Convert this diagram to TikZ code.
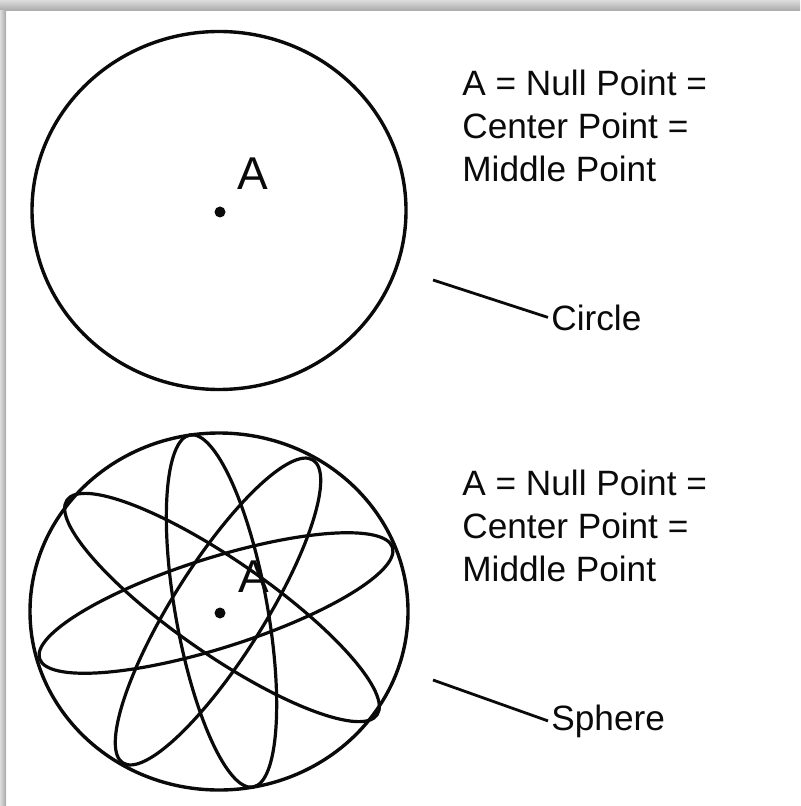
\documentclass[tikz,border=0pt]{standalone}
\usepackage{fontspec}
\setmainfont{Liberation Sans}
\usetikzlibrary{positioning}
\definecolor{ink}{HTML}{0A0A0A}
\definecolor{frame}{HTML}{A8A8A8}
\definecolor{framelt}{HTML}{DCDCDC}
\tikzset{
  outline/.style={draw=ink,line width=1.7pt},
  orbit/.style={draw=ink,line width=1.6pt},
  pin/.style={fill=ink},
  lead/.style={draw=ink,line width=1.4pt},
  caption/.style={font=\fontsize{17.6}{21.5}\selectfont,text=ink,align=left,inner sep=0pt},
  tag/.style={font=\fontsize{17.6}{20}\selectfont,text=ink,inner ysep=0pt,inner xsep=1.5pt},
  letter/.style={font=\fontsize{23}{26}\selectfont,text=ink,inner sep=0pt},
}
\begin{document}
\begin{tikzpicture}[x=0.5pt,y=-0.5pt]
\useasboundingbox (0,0) rectangle (800,806);
% frame shadow
\shade[top color=framelt,bottom color=frame] (0,0) rectangle (800,11);
\shade[left color=framelt,right color=frame] (0,11) rectangle (6,806);
% circle
\coordinate (circc) at (219,210.5);
\draw[outline] (circc) ellipse (187 and 179);
\fill[pin] (220,212) circle (5.5);
\node[letter,anchor=base west] (circA) at (237,190) {A};
\node[caption,anchor=north west] (circtxt) at (462,70) {A = Null Point =\\Center Point =\\Middle Point};
\coordinate (circtail) at (433,280);
\node[tag,anchor=base west] (circlbl) at (548,330) {Circle};
\draw[lead] (circtail) -- (circlbl.west);
% sphere
\coordinate (sphc) at (219,611.5);
\draw[outline] (sphc) ellipse (189 and 178.5);
\draw[orbit,rotate around={-79.85:(221.5,611)}] (221.5,611) ellipse (178.8 and 46);
\draw[orbit,rotate around={57.9:(218,611.5)}] (218,611.5) ellipse (178.8 and 46);
\draw[orbit,rotate around={-34.7:(222,607.5)}] (222,607.5) ellipse (188.6 and 47);
\draw[orbit,rotate around={17.5:(216,603)}] (216,603) ellipse (185 and 45);
\fill[pin] (220,613) circle (5.5);
\node[letter,anchor=base west] (sphA) at (238,592) {A};
\node[caption,anchor=north west] (sphtxt) at (462,470) {A = Null Point =\\Center Point =\\Middle Point};
\coordinate (sphtail) at (433,680);
\node[tag,anchor=base west] (sphlbl) at (548,730) {Sphere};
\draw[lead] (sphtail) -- (sphlbl.west);
\end{tikzpicture}
\end{document}
